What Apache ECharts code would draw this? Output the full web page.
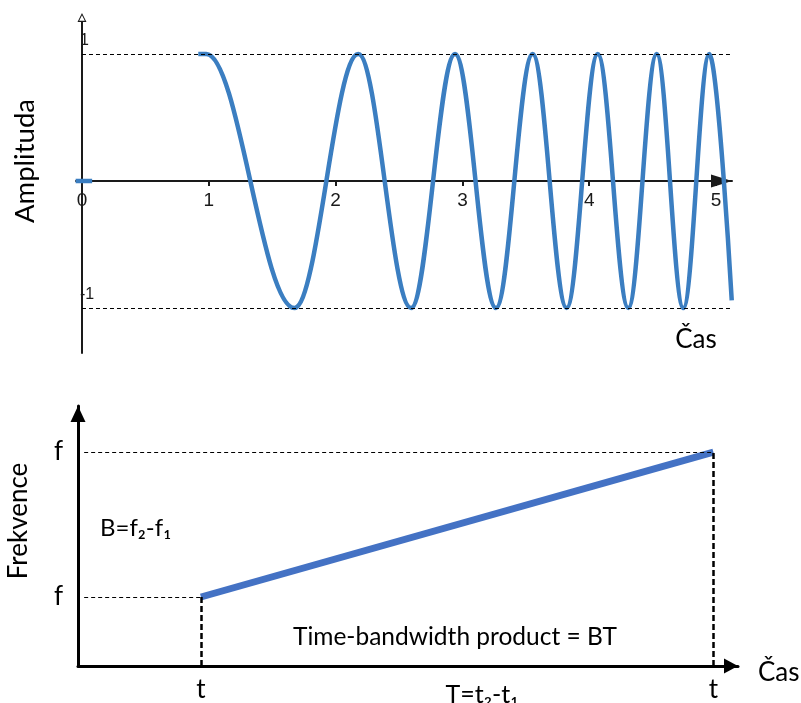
<!DOCTYPE html>
<html lang="cs">
<head>
    <meta charset="UTF-8">
    <title>Chirp – amplituda a frekvence</title>
    <script src="https://cdn.jsdelivr.net/npm/echarts@6/dist/echarts.min.js"></script>
    <style>
        html, body { margin: 0; padding: 0; background: #fff; }
        #chart { width: 801px; height: 703px; }
    </style>
</head>
<body>
    <div id="chart"></div>
    <script>
        // horni graf: chirp, extremy
        var chirpTime = [0.917, 0.98, 1.675, 2.179, 2.595, 2.942, 3.265, 3.554, 3.822,
                         4.067, 4.308, 4.532, 4.742, 4.947, 5.124];
        var chirpAmp = [1, 1, -1, 1, -1, 1, -1, 1, -1,
                        1, -1, 1, -1, 1, -0.94];
        var leadTime = [-0.05, 0.08];
        var leadAmp = [0, 0];
        var timeTicks = [0, 1, 2, 3, 4, 5];
        var ampLabels = [1, -1];
        var levelEnds = [5.11, 5.125];

        // dolni graf: linearni preladeni frekvence
        var sweepTime = [1.2, 6.2];
        var sweepFreq = [1.0, 3.1];
        var freqTicks = [1.0, 3.1];
        var freqNames = ['f', 'f'];
        var timeNames = ['t', 't'];

        var calibriLike = 'Lato, "Open Sans", sans-serif';
        var hollowArrow = 'path://M5,0 L10,10 L0,10 Z M5,2.6 L1.9,8.6 L8.1,8.6 Z';

        function pairs(xs, ys) {
            return xs.map(function (x, i) { return [x, ys[i]]; });
        }

        var chart = echarts.init(document.getElementById('chart'), null, { renderer: 'canvas' });

        var dashThin = { color: '#000', width: 1, type: [4, 3] };
        var dashThick = { color: '#000', width: 2.5, type: [6, 3] };

        function dashed(x0, y0, x1, y1, style) {
            return [{ coord: [x0, y0], lineStyle: style }, { coord: [x1, y1], lineStyle: style }];
        }

        chart.setOption({
            animation: false,
            grid: [
                { left: 76, top: 22, width: 656, height: 331 },
                { left: 78, top: 406, width: 660, height: 260 }
            ],
            xAxis: [{
                gridIndex: 0,
                type: 'value',
                min: -0.0473,
                max: 5.126,
                position: 'bottom',
                offset: -172,
                splitLine: { show: false },
                axisLine: {
                    onZero: false,
                    lineStyle: { color: '#1a1a1a', width: 2 },
                    symbol: ['none', 'triangle'],
                    symbolSize: [13, 21],
                    symbolOffset: [0, -10.5]
                },
                axisTick: { customValues: timeTicks, length: 5, lineStyle: { color: '#1a1a1a', width: 2 } },
                axisLabel: {
                    customValues: timeTicks,
                    fontFamily: '"Liberation Sans", Arial, sans-serif',
                    fontSize: 19,
                    color: '#1a1a1a',
                    margin: 10
                }
            }, {
                gridIndex: 1,
                type: 'value',
                min: 0,
                max: 6.44,
                splitLine: { show: false },
                axisLine: {
                    lineStyle: { color: '#000', width: 3 },
                    symbol: ['none', 'triangle'],
                    symbolSize: [15, 14],
                    symbolOffset: [0, -7]
                },
                axisTick: { show: false },
                axisLabel: {
                    customValues: sweepTime,
                    formatter: function (v) { return timeNames[sweepTime.indexOf(v)]; },
                    fontFamily: calibriLike,
                    fontSize: 26,
                    color: '#000',
                    margin: 11
                }
            }],
            yAxis: [{
                gridIndex: 0,
                type: 'value',
                min: -1.354,
                max: 1.252,
                splitLine: { show: false },
                axisLine: {
                    lineStyle: { color: '#1a1a1a', width: 2 },
                    symbol: ['none', hollowArrow],
                    symbolSize: [11, 9],
                    symbolOffset: [0, 4.5]
                },
                axisTick: { show: false },
                axisLabel: {
                    customValues: ampLabels,
                    inside: true,
                    align: 'left',
                    verticalAlign: 'bottom',
                    padding: [0, 0, 5, 0],
                    margin: 4,
                    fontFamily: '"Liberation Sans", Arial, sans-serif',
                    fontSize: 16,
                    color: '#1a1a1a'
                }
            }, {
                gridIndex: 1,
                type: 'value',
                min: 0,
                max: 3.768,
                splitLine: { show: false },
                axisLine: {
                    lineStyle: { color: '#000', width: 3 },
                    symbol: ['none', 'triangle'],
                    symbolSize: [15, 16],
                    symbolOffset: [0, -8]
                },
                axisTick: { show: false },
                axisLabel: {
                    customValues: freqTicks,
                    formatter: function (v) { return freqNames[freqTicks.indexOf(v)]; },
                    fontFamily: calibriLike,
                    fontSize: 26,
                    color: '#000',
                    margin: 15
                }
            }],
            series: [{
                type: 'line',
                xAxisIndex: 0,
                yAxisIndex: 0,
                data: pairs(chirpTime, chirpAmp),
                smooth: 0.3634,
                smoothMonotone: 'x',
                showSymbol: false,
                lineStyle: { color: '#3b7ec1', width: 4.5 },
                markLine: {
                    silent: true,
                    symbol: 'none',
                    label: { show: false },
                    data: ampLabels.map(function (a, i) {
                        return dashed(0, a, levelEnds[i], a, dashThin);
                    })
                }
            }, {
                type: 'line',
                xAxisIndex: 0,
                yAxisIndex: 0,
                data: pairs(leadTime, leadAmp),
                showSymbol: false,
                lineStyle: { color: '#3b7ec1', width: 4.5 }
            }, {
                type: 'line',
                xAxisIndex: 1,
                yAxisIndex: 1,
                data: pairs(sweepTime, sweepFreq),
                showSymbol: false,
                lineStyle: { color: '#4472c4', width: 7 },
                markLine: {
                    silent: true,
                    symbol: 'none',
                    label: { show: false },
                    data: [
                        dashed(0.06, sweepFreq[0], sweepTime[0], sweepFreq[0], dashThin),
                        dashed(0.06, sweepFreq[1], sweepTime[1], sweepFreq[1], dashThin),
                        dashed(sweepTime[0], 0, sweepTime[0], sweepFreq[0], dashThick),
                        dashed(sweepTime[1], 0, sweepTime[1], sweepFreq[1], dashThick)
                    ]
                }
            }],
            graphic: [
                { type: 'text', x: 25, y: 161, rotation: Math.PI / 2,
                  style: { text: 'Amplituda', font: '27.5px ' + calibriLike, fill: '#000', align: 'center', verticalAlign: 'middle' } },
                { type: 'text', x: 696, y: 340,
                  style: { text: 'Čas', font: '26px ' + calibriLike, fill: '#000', align: 'center', verticalAlign: 'middle' } },
                { type: 'text', x: 19, y: 521, rotation: Math.PI / 2,
                  style: { text: 'Frekvence', font: '26px ' + calibriLike, fill: '#000', align: 'center', verticalAlign: 'middle' } },
                { type: 'text', x: 100, y: 528,
                  style: { text: 'B=f₂-f₁', font: '24px ' + calibriLike, fill: '#000', align: 'left', verticalAlign: 'middle' } },
                { type: 'text', x: 293, y: 637,
                  style: { text: 'Time-bandwidth product = BT', font: '24.5px ' + calibriLike, fill: '#000', align: 'left', verticalAlign: 'middle' } },
                { type: 'text', x: 482, y: 695,
                  style: { text: 'T=t₂-t₁', font: '25px ' + calibriLike, fill: '#000', align: 'center', verticalAlign: 'middle' } },
                { type: 'text', x: 758, y: 673,
                  style: { text: 'Čas', font: '26px ' + calibriLike, fill: '#000', align: 'left', verticalAlign: 'middle' } }
            ]
        });
    </script>
</body>
</html>
